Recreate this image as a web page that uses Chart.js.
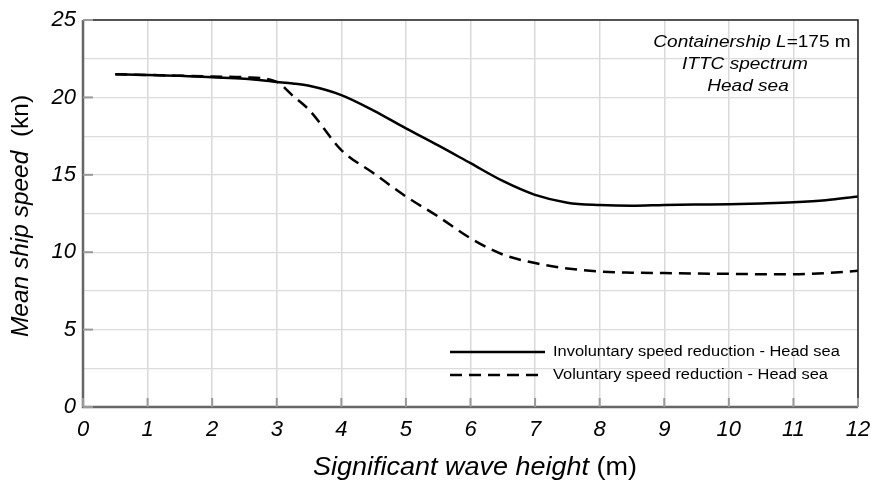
<!DOCTYPE html>
<html>
<head>
    <title>Mean ship speed vs significant wave height</title>
    <script src="https://cdn.jsdelivr.net/npm/chart.js@4/dist/chart.umd.min.js"></script>
    <style>
        body { margin: 0; background: #fff; }
        #wrap { width: 871px; height: 483px; }
    </style>
</head>
<body>
    <div id="wrap"><canvas id="speedChart" width="871" height="483"></canvas></div>
    <script>
        // wave height (m) and mean speed (kn)
        const waveHeight = [0.5, 1, 1.5, 2, 2.5, 3, 3.25, 3.5, 4, 4.5, 5, 5.5, 6, 6.5, 7, 7.5, 8, 8.5, 9, 9.5, 10, 10.5, 11, 11.5, 12];
        const involuntary = [21.5, 21.45, 21.4, 21.3, 21.2, 21.0, 20.9, 20.75, 20.15, 19.15, 18.0, 16.9, 15.75, 14.6, 13.7, 13.2, 13.05, 13.0, 13.05, 13.08, 13.1, 13.15, 13.22, 13.35, 13.6];
        const voluntary = [21.5, 21.45, 21.4, 21.35, 21.3, 21.0, 20.1, 19.2, 16.6, 15.1, 13.6, 12.3, 10.9, 9.85, 9.3, 8.95, 8.75, 8.68, 8.65, 8.62, 8.6, 8.58, 8.58, 8.65, 8.8];
        const seriesNames = ["Involuntary speed reduction - Head sea", "Voluntary speed reduction - Head sea"];
        const noteLines = [["Containership L", "=175 m"], ["ITTC spectrum", ""], ["Head sea", ""]];

        const FONT = "'Liberation Sans', Arial, sans-serif";

        function toPoints(ys) {
            return waveHeight.map((x, i) => ({ x: x, y: ys[i] }));
        }

        // italic part + upright part, slightly widened like the original
        function mixedText(ctx, parts, x, y, size, stretch) {
            ctx.save();
            ctx.translate(x, y);
            ctx.scale(stretch, 1);
            ctx.font = "italic " + size + "px " + FONT;
            const w1 = ctx.measureText(parts[0]).width;
            ctx.font = size + "px " + FONT;
            const w2 = ctx.measureText(parts[1]).width;
            const start = -(w1 + w2) / 2;
            ctx.textAlign = "left";
            ctx.font = "italic " + size + "px " + FONT;
            ctx.fillText(parts[0], start, 0);
            ctx.font = size + "px " + FONT;
            ctx.fillText(parts[1], start + w1, 0);
            ctx.restore();
        }

        const decorations = {
            id: "decorations",
            afterDraw(chart) {
                const ctx = chart.ctx;
                const a = chart.chartArea;
                const xs = chart.scales.x, ys = chart.scales.y;
                ctx.save();
                // frame
                ctx.strokeStyle = "#222";
                ctx.lineWidth = 1.5;
                ctx.beginPath();
                ctx.moveTo(a.left, a.top); ctx.lineTo(a.right, a.top); ctx.lineTo(a.right, a.bottom);
                ctx.stroke();
                ctx.strokeStyle = "#666";
                ctx.lineWidth = 2.5;
                ctx.beginPath();
                ctx.moveTo(a.left, a.top); ctx.lineTo(a.left, a.bottom); ctx.lineTo(a.right, a.bottom);
                ctx.stroke();
                // small inner ticks
                ctx.strokeStyle = "#999";
                ctx.lineWidth = 2;
                for (let v = 0; v <= 12; v++) {
                    const px = xs.getPixelForValue(v);
                    ctx.beginPath(); ctx.moveTo(px, a.bottom); ctx.lineTo(px, a.bottom - 9); ctx.stroke();
                }
                for (let v = 0; v <= 25; v += 5) {
                    const py = ys.getPixelForValue(v);
                    ctx.beginPath(); ctx.moveTo(a.left, py); ctx.lineTo(a.left + 10, py); ctx.stroke();
                }

                ctx.fillStyle = "#000";
                ctx.textBaseline = "middle";
                // note box
                mixedText(ctx, noteLines[0], 752, 42, 17, 1.12);
                mixedText(ctx, noteLines[1], 745, 64, 17, 1.12);
                mixedText(ctx, noteLines[2], 748, 86, 17, 1.12);

                // legend
                chart.data.datasets.forEach((ds, i) => {
                    const ly = 352 + i * 23;
                    ctx.strokeStyle = ds.borderColor;
                    ctx.lineWidth = 2.4;
                    ctx.setLineDash(ds.borderDash || []);
                    ctx.beginPath(); ctx.moveTo(450, ly); ctx.lineTo(545, ly); ctx.stroke();
                    ctx.setLineDash([]);
                    ctx.save();
                    ctx.translate(553, ly);
                    ctx.scale(1.06, 1);
                    ctx.font = "15.5px " + FONT;
                    ctx.textAlign = "left";
                    ctx.fillText(ds.label, 0, 0);
                    ctx.restore();
                });

                // axis titles
                mixedText(ctx, ["Significant wave height", " (m)"], 475, 468, 25, 1.08);
                ctx.translate(21, 216);
                ctx.rotate(-Math.PI / 2);
                mixedText(ctx, ["Mean ship speed", "  (kn)"], 0, 0, 24, 1.02);
                ctx.restore();
            }
        };

        new Chart(document.getElementById("speedChart"), {
            type: "line",
            data: {
                datasets: [
                    { label: seriesNames[0], data: toPoints(involuntary), borderColor: "#000", borderWidth: 2.5, cubicInterpolationMode: "monotone", pointRadius: 0 },
                    { label: seriesNames[1], data: toPoints(voluntary), borderColor: "#000", borderWidth: 2.5, borderDash: [12, 7], cubicInterpolationMode: "monotone", pointRadius: 0 }
                ]
            },
            options: {
                responsive: false,
                animation: false,
                layout: { padding: { top: 20, right: 13, left: 0, bottom: 0 } },
                plugins: { legend: { display: false }, tooltip: { enabled: false } },
                scales: {
                    x: {
                        type: "linear", min: 0, max: 12,
                        afterFit(s) { s.height = 76; s.paddingLeft = 0; s.paddingRight = 0; },
                        border: { display: false },
                        grid: { color: "#d9d9d9", lineWidth: 1.5, drawTicks: false },
                        ticks: { stepSize: 1, padding: 10, color: "#000", font: { family: FONT, size: 22, style: "italic" } }
                    },
                    y: {
                        min: 0, max: 25,
                        afterFit(s) { s.width = 83; s.paddingTop = 0; s.paddingBottom = 0; },
                        border: { display: false },
                        grid: { color: "#dcdcdc", lineWidth: 1.2, drawTicks: false },
                        ticks: {
                            stepSize: 2.5, padding: 7, color: "#000",
                            font: { family: FONT, size: 22, style: "italic" },
                            callback: v => (v % 5 === 0 ? v : "")
                        }
                    }
                }
            },
            plugins: [decorations]
        });
    </script>
</body>
</html>
